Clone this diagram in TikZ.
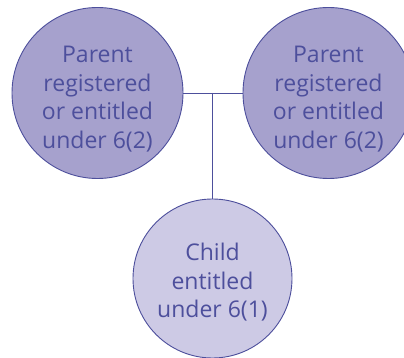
\documentclass[tikz,border=0pt]{standalone}
\usepackage{fontspec}
\setmainfont{Open Sans}
\usepackage{tikz}
\usetikzlibrary{positioning, calc}
\definecolor{rim}{HTML}{4D4F9C}
\definecolor{parentfill}{HTML}{A6A1CD}
\definecolor{childfill}{HTML}{CDCAE5}
\tikzset{
    person/.style={circle, draw=rim, line width=0.9pt, inner sep=0pt},
    caption/.style={text=rim, align=center, font=\fontsize{23}{28.5}\selectfont, inner sep=0pt},
    link/.style={draw=rim, line width=0.9pt}
}

\begin{document}
\begin{tikzpicture}[x=1pt, y=1pt]
    \useasboundingbox (0,0) rectangle (404,358);
    \node [person, fill=parentfill, minimum size=171pt,
        label={[caption, yshift=-6pt]center:{Parent\\registered\\or entitled\\under 6(2)}}] (mum) at (97.5,265) {};
    \node [person, fill=parentfill, minimum size=171pt,
        label={[caption, yshift=-6pt]center:{Parent\\registered\\or entitled\\under 6(2)}}] (dad) at (328.5,265) {};
    \node [person, fill=childfill, minimum size=159pt,
        label={[caption, yshift=-4pt]center:{Child\\entitled\\under 6(1)}}] (child) at (212.5,79.5) {};

    \coordinate (join) at (child.north |- mum.east);
    \draw [link] (mum.east) -- (dad.west);
    \draw [link] (join) -- (child.north);
\end{tikzpicture}
\end{document}
